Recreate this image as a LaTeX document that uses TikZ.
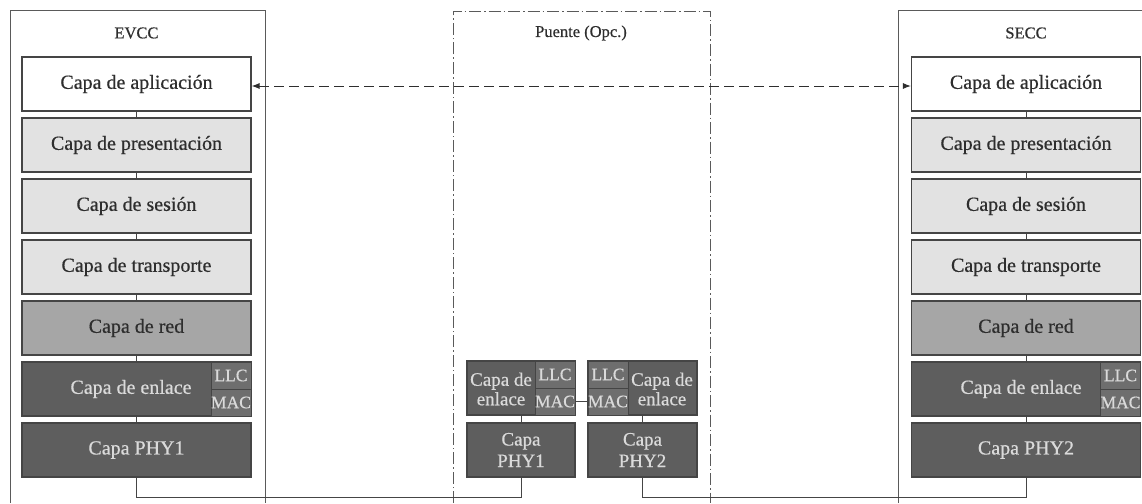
\documentclass[tikz,border=0pt]{standalone}
\usepackage{fontspec}
\setmainfont{Liberation Serif}[AutoFakeBold=0.6]
\usetikzlibrary{arrows.meta}
\definecolor{lite}{HTML}{E2E2E2}
\definecolor{mid}{HTML}{A6A6A6}
\definecolor{dark}{HTML}{5E5E5E}
\definecolor{darker}{HTML}{6E6E6E}
\definecolor{edge}{HTML}{454545}
\definecolor{txtd}{HTML}{2E2E2E}
\definecolor{txtl}{HTML}{DADADA}
\definecolor{framec}{HTML}{5A5A5A}
\begin{document}
\begin{tikzpicture}[x=1pt,y=-1pt,
  layer/.style={draw=edge, line width=1.1pt, minimum width=229pt, minimum height=54pt, inner sep=0pt, font=\fontsize{20}{22}\selectfont\bfseries, text=txtd},
  smallbox/.style={draw=edge, line width=1.1pt, minimum width=108pt, minimum height=54pt, inner sep=0pt, fill=dark},
  sub/.style={draw=edge, line width=0.8pt, minimum width=40pt, minimum height=27pt, inner sep=0pt, fill=darker, text=txtl, font=\fontsize{17.5}{19}\selectfont\bfseries},
  lbl/.style={inner sep=0pt, text=txtl, font=\fontsize{20}{22}\selectfont\bfseries, align=center},
  title/.style={inner sep=0pt, text=txtd, font=\fontsize{16.5}{18}\selectfont\bfseries},
  conn/.style={draw=edge, line width=1pt},
  frame/.style={draw=framec, line width=1pt},
  bframe/.style={draw=framec, line width=1pt, dash pattern=on 12pt off 3pt on 1.5pt off 3pt},
  link/.style={draw=txtd, line width=1pt, dash pattern=on 10pt off 5pt, {Latex[length=8pt,width=6pt]}-{Latex[length=8pt,width=6pt]}}
]
\useasboundingbox (0,0) rectangle (1142,503);
\fill[white] (0,0) rectangle (1142,503);

% frames
\draw[frame] (10,503) -- (10,11) -- (265,11) -- (265,503);
\draw[bframe] (453,503) -- (453,12) -- (710,12) -- (710,503);
\draw[frame] (898,503) -- (898,11) -- (1142,11);

\node[title] (tevcc) at (136.5,33) {EVCC};
\node[title] (tpuente) at (581,33) {Puente (Opc.)};
\node[title] (tsecc) at (1026,33) {SECC};

% EVCC stack
\node[layer, fill=white] (la) at (136.5,84) {Capa de aplicación};
\node[layer, fill=lite] (lp) at (136.5,145) {Capa de presentación};
\node[layer, fill=lite] (ls) at (136.5,206) {Capa de sesión};
\node[layer, fill=lite] (lt) at (136.5,267) {Capa de transporte};
\node[layer, fill=mid] (lr) at (136.5,328) {Capa de red};
\node[layer, fill=dark] (le) at (136.5,389) {};
\node[lbl] (let) at (131,389) {Capa de enlace};
\node[sub] (lllc) at (231,375.5) {LLC};
\node[sub] (lmac) at (231,402.5) {MAC};
\node[layer, fill=dark, text=txtl] (lphy) at (136.5,450) {Capa PHY1};

% SECC stack
\node[layer, fill=white] (ra) at (1026,84) {Capa de aplicación};
\node[layer, fill=lite] (rp) at (1026,145) {Capa de presentación};
\node[layer, fill=lite] (rs) at (1026,206) {Capa de sesión};
\node[layer, fill=lite] (rt) at (1026,267) {Capa de transporte};
\node[layer, fill=mid] (rr) at (1026,328) {Capa de red};
\node[layer, fill=dark] (re) at (1026,389) {};
\node[lbl] (ret) at (1021,389) {Capa de enlace};
\node[sub] (rllc) at (1120.5,375.5) {LLC};
\node[sub] (rmac) at (1120.5,402.5) {MAC};
\node[layer, fill=dark, text=txtl] (rphy) at (1026,450) {Capa PHY2};

% Bridge
\node[smallbox] (ble) at (521,388) {};
\node[lbl, font=\fontsize{19}{19.5}\selectfont\bfseries] (blet) at (501,389) {Capa de\\enlace};
\node[sub] (bllc1) at (555,374.5) {LLC};
\node[sub] (bmac1) at (555,401.5) {MAC};
\node[smallbox] (bphy1) at (521,450) {};
\node[lbl, font=\fontsize{19}{21.5}\selectfont\bfseries] (bphy1t) at (521,450) {Capa\\PHY1};

\node[smallbox, minimum width=109pt] (bre) at (642.5,388) {};
\node[lbl, font=\fontsize{19}{19.5}\selectfont\bfseries] (bret) at (662,389) {Capa de\\enlace};
\node[sub] (bllc2) at (608,374.5) {LLC};
\node[sub] (bmac2) at (608,401.5) {MAC};
\node[smallbox, minimum width=109pt] (bphy2) at (642.5,450) {};
\node[lbl, font=\fontsize{19}{21.5}\selectfont\bfseries] (bphy2t) at (642.5,450) {Capa\\PHY2};

% stack connectors
\draw[conn] (la) -- (lp);
\draw[conn] (lp) -- (ls);
\draw[conn] (ls) -- (lt);
\draw[conn] (lt) -- (lr);
\draw[conn] (lr) -- (le);
\draw[conn] (le) -- (lphy);
\draw[conn] (ra) -- (rp);
\draw[conn] (rp) -- (rs);
\draw[conn] (rs) -- (rt);
\draw[conn] (rt) -- (rr);
\draw[conn] (rr) -- (re);
\draw[conn] (re) -- (rphy);
\draw[conn] (ble) -- (bphy1);
\draw[conn] (bre) -- (bphy2);
\draw[conn] (bmac1.east) -- (bmac2.west);

% physical links
\draw[conn] (lphy.south) -- ++(0,20) -| (bphy1.south);
\draw[conn] (bphy2.south) -- ++(0,20) -| (rphy.south);

% logical link
\draw[link] ([yshift=-2pt]la.east) -- ([yshift=-2pt]ra.west);
\end{tikzpicture}
\end{document}
